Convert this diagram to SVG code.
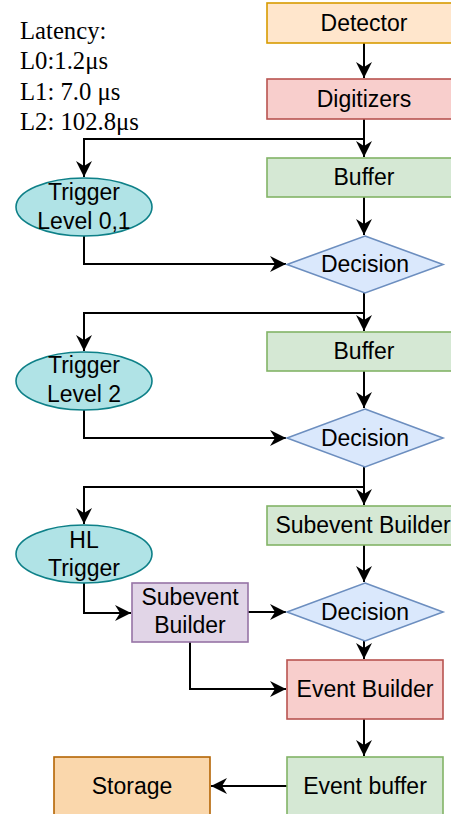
<svg xmlns="http://www.w3.org/2000/svg" width="451" height="814" viewBox="0 0 451 814">
<style>
  .t{font-family:"Liberation Sans",Arial,sans-serif;font-size:23px;fill:#000;text-anchor:middle}
  .lat{font-family:"Liberation Serif","Times New Roman",serif;font-size:24.7px;fill:#000}
  .c{fill:none;stroke:#000;stroke-width:2}
  .sh{stroke-width:1.6}
</style>
<defs>
  <marker id="ah" markerUnits="userSpaceOnUse" markerWidth="18" markerHeight="18" viewBox="-17 -9 18 18" refX="0" refY="0" orient="auto">
    <path d="M0,0 L-16,-8 L-11,0 L-16,8 Z" fill="#000"/>
  </marker>
</defs>
<rect width="451" height="814" fill="#fff"/>

<g id="latency">
  <text class="lat" x="20" y="39">Latency:</text>
  <text class="lat" x="20" y="69">L0:1.2μs</text>
  <text class="lat" x="20" y="100">L1: 7.0 μs</text>
  <text class="lat" x="20" y="130">L2: 102.8μs</text>
</g>

<g id="connectors">
  <path class="c" d="M364,43 V78" marker-end="url(#ah)"/>
  <path class="c" d="M364,119 V157" marker-end="url(#ah)"/>
  <path class="c" d="M364,139 H84 V177" marker-end="url(#ah)"/>
  <path class="c" d="M364,197 V235" marker-end="url(#ah)"/>
  <path class="c" d="M84,236 V264 H286" marker-end="url(#ah)"/>
  <path class="c" d="M364,293 V331" marker-end="url(#ah)"/>
  <path class="c" d="M364,313 H84 V351" marker-end="url(#ah)"/>
  <path class="c" d="M364,371 V408" marker-end="url(#ah)"/>
  <path class="c" d="M84,410 V438 H286" marker-end="url(#ah)"/>
  <path class="c" d="M364,467 V505" marker-end="url(#ah)"/>
  <path class="c" d="M364,487 H84 V524" marker-end="url(#ah)"/>
  <path class="c" d="M364,545 V582" marker-end="url(#ah)"/>
  <path class="c" d="M84,583 V613 H131" marker-end="url(#ah)"/>
  <path class="c" d="M248,612 H286" marker-end="url(#ah)"/>
  <path class="c" d="M364,641 V659" marker-end="url(#ah)"/>
  <path class="c" d="M190,642 V689 H286" marker-end="url(#ah)"/>
  <path class="c" d="M364,719 V756" marker-end="url(#ah)"/>
  <path class="c" d="M287,786 H211" marker-end="url(#ah)"/>
</g>

<g id="detector">
  <rect class="sh" x="267" y="3" width="194" height="40" fill="#ffe6cc" stroke="#d79b00"/>
  <text class="t" x="364" y="31">Detector</text>
</g>
<g id="digitizers">
  <rect class="sh" x="267" y="79" width="194" height="40" fill="#f8cecc" stroke="#b85450"/>
  <text class="t" x="364" y="107">Digitizers</text>
</g>
<g id="buffer1">
  <rect class="sh" x="267" y="158" width="194" height="39" fill="#d5e8d4" stroke="#82b366"/>
  <text class="t" x="364" y="185">Buffer</text>
</g>
<g id="trigger01">
  <ellipse class="sh" cx="84" cy="207" rx="68" ry="29" fill="#b0e3e6" stroke="#0e8088"/>
  <text class="t" x="84" y="200">Trigger</text>
  <text class="t" x="84" y="229">Level 0,1</text>
</g>
<g id="decision1">
  <polygon class="sh" points="365,236 443,264.5 365,293 287,264.5" fill="#dae8fc" stroke="#6c8ebf"/>
  <text class="t" x="365" y="272">Decision</text>
</g>
<g id="buffer2">
  <rect class="sh" x="267" y="332" width="194" height="39" fill="#d5e8d4" stroke="#82b366"/>
  <text class="t" x="364" y="359">Buffer</text>
</g>
<g id="trigger2">
  <ellipse class="sh" cx="84" cy="381" rx="68" ry="29" fill="#b0e3e6" stroke="#0e8088"/>
  <text class="t" x="84" y="373">Trigger</text>
  <text class="t" x="84" y="402">Level 2</text>
</g>
<g id="decision2">
  <polygon class="sh" points="365,409 443,438 365,467 287,438" fill="#dae8fc" stroke="#6c8ebf"/>
  <text class="t" x="365" y="446">Decision</text>
</g>
<g id="subeventBuilder1">
  <rect class="sh" x="267" y="506" width="194" height="39" fill="#d5e8d4" stroke="#82b366"/>
  <text class="t" x="363" y="533">Subevent Builder</text>
</g>
<g id="hlTrigger">
  <ellipse class="sh" cx="84" cy="554" rx="68" ry="29" fill="#b0e3e6" stroke="#0e8088"/>
  <text class="t" x="84" y="548">HL</text>
  <text class="t" x="84" y="576">Trigger</text>
</g>
<g id="subeventBuilder2">
  <rect class="sh" x="132" y="583" width="116" height="59" fill="#e1d5e7" stroke="#9673a6"/>
  <text class="t" x="190" y="605">Subevent</text>
  <text class="t" x="190" y="633">Builder</text>
</g>
<g id="decision3">
  <polygon class="sh" points="365,583 443,612 365,641 287,612" fill="#dae8fc" stroke="#6c8ebf"/>
  <text class="t" x="365" y="620">Decision</text>
</g>
<g id="eventBuilder">
  <rect class="sh" x="287" y="660" width="156" height="59" fill="#f8cecc" stroke="#b85450"/>
  <text class="t" x="365" y="697">Event Builder</text>
</g>
<g id="eventBuffer">
  <rect class="sh" x="287" y="757" width="156" height="59" fill="#d5e8d4" stroke="#82b366"/>
  <text class="t" x="365" y="794">Event buffer</text>
</g>
<g id="storage">
  <rect class="sh" x="54" y="757" width="156" height="59" fill="#fad7ac" stroke="#b46504"/>
  <text class="t" x="132" y="794">Storage</text>
</g>
</svg>
